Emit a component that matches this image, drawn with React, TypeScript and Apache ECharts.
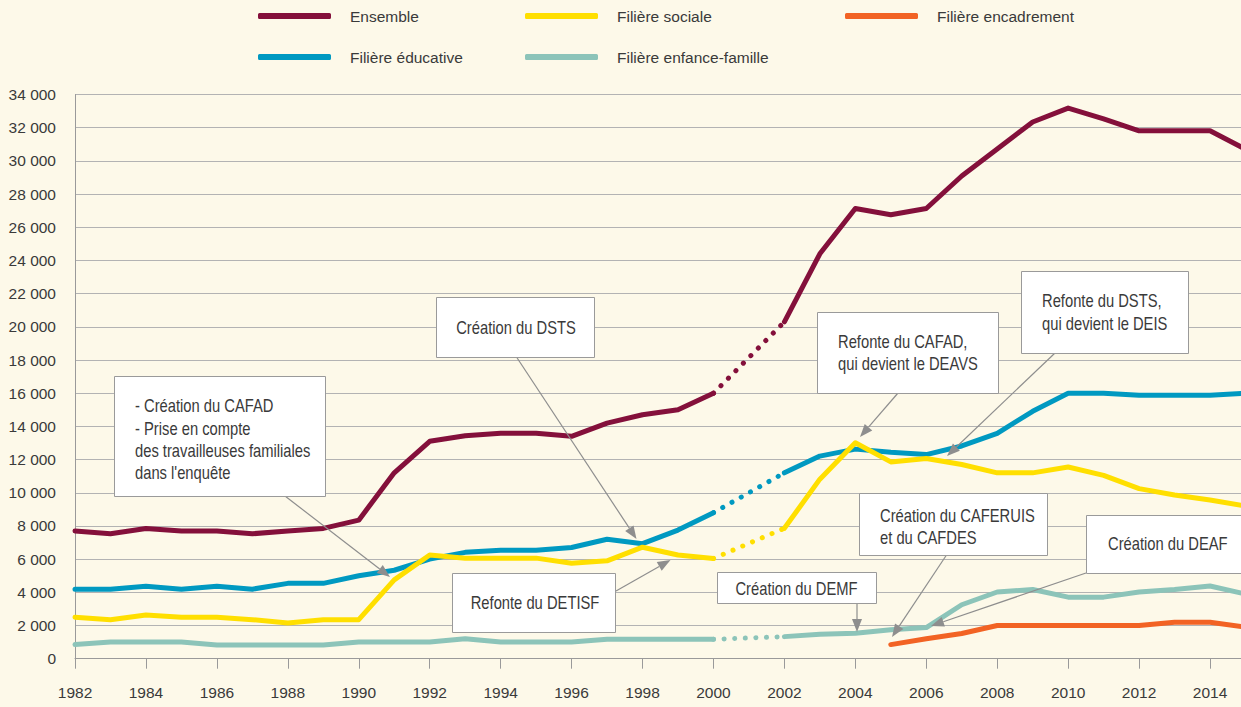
import React, { useEffect, useRef } from "react";
import * as echarts from "echarts";

const years: string[] = [
  "1982","1983","1984","1985","1986","1987","1988","1989","1990","1991",
  "1992","1993","1994","1995","1996","1997","1998","1999","2000","2001",
  "2002","2003","2004","2005","2006","2007","2008","2009","2010","2011",
  "2012","2013","2014","2015",
];

const ensemble: (number | null)[] = [
  7700, 7530, 7850, 7690, 7690, 7530, 7690, 7850, 8350, 11200,
  13100, 13430, 13580, 13580, 13400, 14200, 14700, 15000, 16000, null,
  20300, 24400, 27130, 26750, 27130, 29090, 30720, 32340, 33180, 32530,
  31810, 31810, 31810, 30700,
];

const sociale: (number | null)[] = [
  2500, 2350, 2630, 2500, 2500, 2350, 2150, 2350, 2350, 4750,
  6250, 6060, 6060, 6060, 5750, 5900, 6720, 6250, 6040, null,
  7860, 10820, 13010, 11860, 12060, 11700, 11200, 11200, 11550, 11050,
  10250, 9860, 9560, 9200,
];

const educative: (number | null)[] = [
  4190, 4190, 4370, 4190, 4370, 4190, 4540, 4540, 5000, 5330,
  6000, 6410, 6540, 6540, 6700, 7200, 6930, 7750, 8800, null,
  11200, 12210, 12630, 12440, 12300, 12820, 13580, 14910, 16000, 16000,
  15870, 15870, 15870, 16000,
];

const enfanceFamille: (number | null)[] = [
  850, 1000, 1000, 1000, 830, 830, 830, 830, 1000, 1000,
  1000, 1200, 1000, 1000, 1000, 1170, 1170, 1170, 1170, null,
  1330, 1480, 1540, 1750, 1875, 3250, 4020, 4170, 3710, 3710,
  4020, 4170, 4380, 3900,
];

const encadrement: (number | null)[] = [
  null, null, null, null, null, null, null, null, null, null,
  null, null, null, null, null, null, null, null, null, null,
  null, null, null, 850, 1200, 1520, 2000, 2000, 2000, 2000,
  2000, 2200, 2200, 1900,
];

// years joined by a dotted line (change of survey method)
const bridgeFrom = "2000";
const bridgeTo = "2002";

const yTicks = { min: 0, max: 34000, interval: 2000 };

const COLORS = {
  ensemble: "#84103b",
  sociale: "#ffdf00",
  encadrement: "#f26324",
  educative: "#0099c1",
  enfance: "#8cc4b9",
};

const FONT = '"Liberation Sans", Arial, sans-serif';
const TEXT = "#3a3a3a";
const BG = "#fdf9e9";
const AXIS_FS = 15.5;

function bridge(arr: (number | null)[]) {
  const a = years.indexOf(bridgeFrom);
  const b = years.indexOf(bridgeTo);
  return arr.map((v, i) => (i === a || i === b ? v : null));
}

function arrow(x1: number, y1: number, x2: number, y2: number) {
  const ang = Math.atan2(y2 - y1, x2 - x1);
  const L = 13;
  const W = 5;
  const c = Math.cos(ang);
  const s = Math.sin(ang);
  const bx = x2 - L * c;
  const by = y2 - L * s;
  return [
    {
      type: "line",
      z: 100,
      shape: { x1, y1, x2: bx, y2: by },
      style: { stroke: "#8e8e8e", lineWidth: 1.2 },
    },
    {
      type: "polygon",
      z: 100,
      shape: { points: [[x2, y2], [bx + W * s, by - W * c], [bx - W * s, by + W * c]] },
      style: { fill: "#8e8e8e" },
    },
  ];
}

function box(x: number, y: number, w: number, h: number) {
  return {
    type: "rect",
    z: 101,
    shape: { x: Math.round(x) + 0.5, y: Math.round(y) + 0.5, width: Math.round(w), height: Math.round(h) },
    style: { fill: "#ffffff", stroke: "#9a9a9a", lineWidth: 1 },
  };
}

function label(text: string, x: number, y: number, align: "left" | "center", vAlign: "top" | "middle") {
  return {
    type: "text",
    z: 102,
    x,
    y,
    scaleX: 0.82,
    style: {
      text,
      x: 0,
      y: 0,
      fill: TEXT,
      font: `18px ${FONT}`,
      lineHeight: 22.3,
      textAlign: align,
      textVerticalAlign: vAlign,
    },
  };
}

function fmt(v: number) {
  return String(v).replace(/\B(?=(\d{3})+(?!\d))/g, " ");
}

export default function App() {
  const ref = useRef<HTMLDivElement>(null);

  useEffect(() => {
    if (!ref.current) return;
    const chart = echarts.init(ref.current, undefined, { renderer: "svg" });

    const lineSeries = (name: string, data: (number | null)[], color: string, z: number) => ({
      name,
      type: "line",
      data,
      z,
      color,
      symbol: "none",
      connectNulls: false,
      lineStyle: { width: 5, color, cap: "round", join: "round" },
    });

    const dotSeries = (name: string, data: (number | null)[], color: string, z: number) => ({
      name,
      type: "line",
      data: bridge(data),
      z,
      color,
      symbol: "none",
      connectNulls: true,
      lineStyle: { width: 5, color, type: [0.1, 10.5], cap: "round" },
    });

    const legendBase = {
      icon: "roundRect",
      itemWidth: 73,
      itemHeight: 6,
      padding: 0,
      selectedMode: false,
      textStyle: { fontSize: AXIS_FS, color: TEXT, fontFamily: FONT, lineHeight: 20, padding: [0, 0, 0, 14] },
    };

    const graphics: any[] = [
      box(114, 376, 211, 120),
      label("- Création du CAFAD\n- Prise en compte\ndes travailleuses familiales\ndans l'enquête", 135, 394.5, "left", "top"),
      ...arrow(285, 496, 390, 577),

      box(436, 297, 158, 60),
      label("Création du DSTS", 516, 327, "center", "middle"),
      ...arrow(516.5, 357, 636.5, 539),

      box(452, 573, 163, 59),
      label("Refonte du DETISF", 535, 602, "center", "middle"),
      ...arrow(616, 591, 670.5, 560),

      box(717, 572, 159, 31),
      label("Création du DEMF", 796.5, 588, "center", "middle"),
      ...arrow(857, 603, 857, 632),

      box(817, 312, 181, 81),
      label("Refonte du CAFAD,\nqui devient le DEAVS", 838, 330, "left", "top"),
      ...arrow(898, 393, 860, 437),

      box(1021, 271, 167, 82),
      label("Refonte du DSTS,\nqui devient le DEIS", 1042, 289.5, "left", "top"),
      ...arrow(1055, 353, 947, 456),

      box(859, 493, 188, 62),
      label("Création du CAFERUIS\net du CAFDES", 880, 504, "left", "top"),
      ...arrow(946.5, 555, 892, 637),

      box(1086, 515, 200, 58),
      label("Création du DEAF", 1108, 543.5, "left", "middle"),
      ...arrow(1086, 573, 931, 626),
    ];

    chart.setOption({
      animation: false,
      backgroundColor: BG,
      textStyle: { fontFamily: FONT },
      legend: [
        { ...legendBase, data: ["Ensemble"], left: 258, top: 6 },
        { ...legendBase, data: ["Filière sociale"], left: 525, top: 6 },
        { ...legendBase, data: ["Filière encadrement"], left: 845, top: 6 },
        { ...legendBase, data: ["Filière éducative"], left: 258, top: 47 },
        { ...legendBase, data: ["Filière enfance-famille"], left: 525, top: 47 },
      ],
      grid: { left: 75, right: 14.5, top: 94.5, bottom: 48.3, containLabel: false },
      xAxis: {
        type: "category",
        data: years,
        boundaryGap: false,
        axisLine: { show: true, lineStyle: { color: "#9a9a9a", width: 1 } },
        axisTick: { show: true, interval: 1, length: 10, lineStyle: { color: "#9a9a9a" } },
        axisLabel: { interval: 1, margin: 26, fontSize: AXIS_FS, color: TEXT, fontFamily: FONT },
        splitLine: { show: false },
      },
      yAxis: {
        type: "value",
        min: yTicks.min,
        max: yTicks.max,
        interval: yTicks.interval,
        axisLine: { show: true, lineStyle: { color: "#9a9a9a", width: 1 } },
        axisTick: { show: false },
        axisLabel: { margin: 19, fontSize: AXIS_FS, color: TEXT, fontFamily: FONT, formatter: (v: number) => fmt(v) },
        splitLine: { show: true, lineStyle: { color: "#b3b3b3", width: 1 } },
      },
      series: [
        lineSeries("Filière enfance-famille", enfanceFamille, COLORS.enfance, 2),
        dotSeries("enfance-famille (rupture)", enfanceFamille, COLORS.enfance, 2),
        lineSeries("Filière encadrement", encadrement, COLORS.encadrement, 3),
        lineSeries("Filière éducative", educative, COLORS.educative, 4),
        dotSeries("éducative (rupture)", educative, COLORS.educative, 4),
        lineSeries("Filière sociale", sociale, COLORS.sociale, 5),
        dotSeries("sociale (rupture)", sociale, COLORS.sociale, 5),
        lineSeries("Ensemble", ensemble, COLORS.ensemble, 6),
        dotSeries("Ensemble (rupture)", ensemble, COLORS.ensemble, 6),
      ],
      graphic: { elements: graphics },
    });

    return () => {
      chart.dispose();
    };
  }, []);

  return (
    <div
      style={{
        position: "fixed",
        left: 0,
        top: 0,
        width: 1241,
        height: 707,
        overflow: "hidden",
        background: BG,
      }}
    >
      <div ref={ref} style={{ width: 1260, height: 707 }} />
    </div>
  );
}
